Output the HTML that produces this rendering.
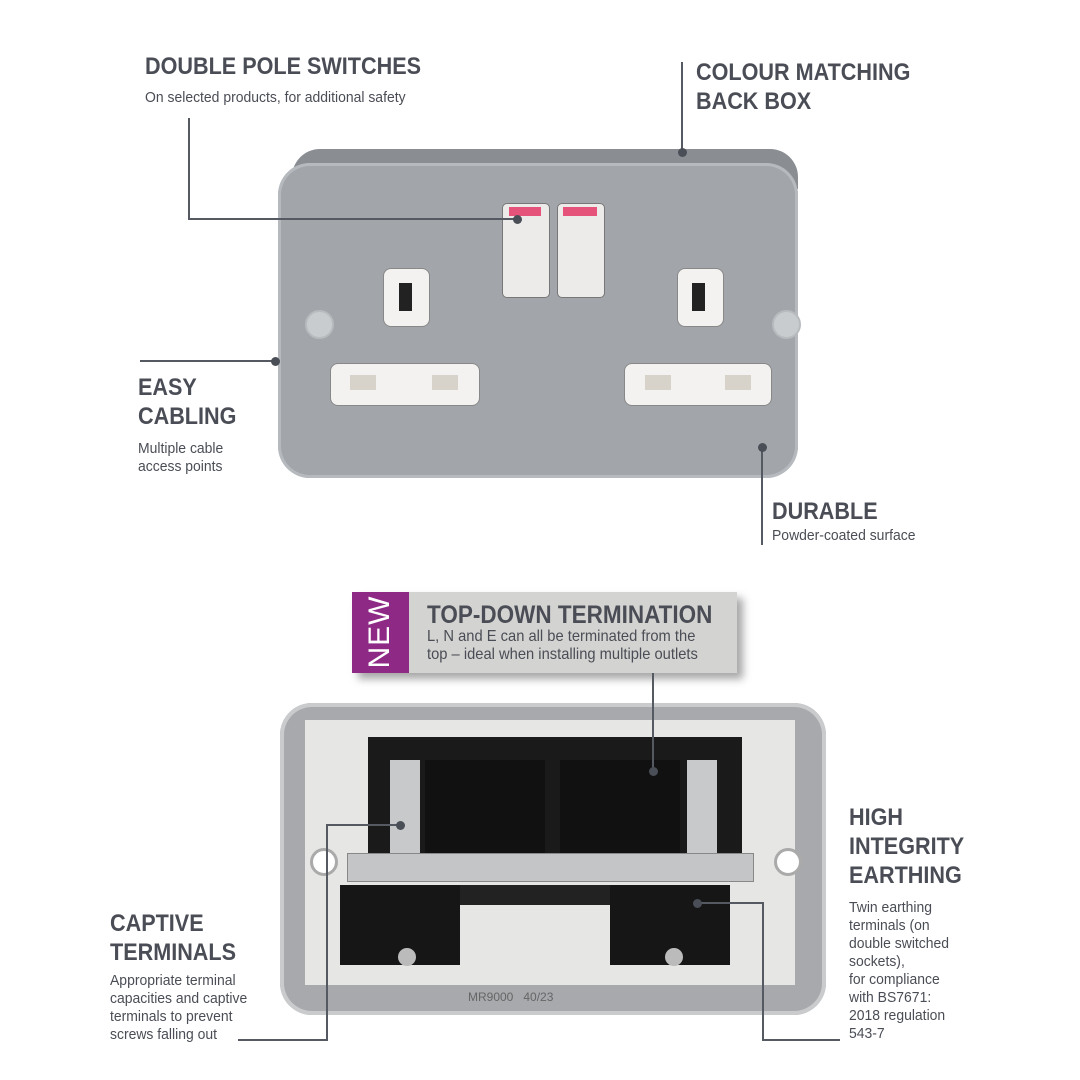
<!DOCTYPE html>
<html><head><meta charset="utf-8"><style>
body{margin:0;width:1080px;height:1080px;background:#fff;position:relative;overflow:hidden;font-family:"Liberation Sans",sans-serif;color:#4a4d55}
.a{position:absolute}
.h{position:absolute;font-weight:bold;font-size:24px;line-height:29px;transform:scaleX(0.9);transform-origin:0 0;white-space:nowrap;color:#4a4d55}
.s{position:absolute;font-size:15px;line-height:18px;transform:scaleX(0.93);transform-origin:0 0;white-space:nowrap;color:#4a4d55}
.l{position:absolute;background:#555a62}
.d{position:absolute;width:9px;height:9px;border-radius:50%;background:#4a4f57}
</style></head><body>

<!-- TOP SOCKET -->
<div class="a" style="left:292px;top:149px;width:506px;height:40px;background:#8a8e93;border-radius:28px 28px 0 0"></div>
<div class="a" style="left:278px;top:163px;width:520px;height:315px;background:#a2a6ab;border-radius:32px;box-shadow:inset 0 0 0 3px #b6babe"></div>
<!-- switches -->
<div class="a" style="left:502px;top:203px;width:46px;height:93px;background:#ecebea;border:1px solid #777;border-radius:5px"></div>
<div class="a" style="left:509px;top:207px;width:32px;height:9px;background:#e5537a"></div>
<div class="a" style="left:557px;top:203px;width:46px;height:93px;background:#ecebea;border:1px solid #777;border-radius:5px"></div>
<div class="a" style="left:563px;top:207px;width:34px;height:9px;background:#e5537a"></div>
<!-- earth pins -->
<div class="a" style="left:383px;top:268px;width:45px;height:57px;background:#f3f2f0;border-radius:8px;border:1px solid #888"></div>
<div class="a" style="left:399px;top:283px;width:13px;height:28px;background:#222"></div>
<div class="a" style="left:677px;top:268px;width:45px;height:57px;background:#f3f2f0;border-radius:8px;border:1px solid #888"></div>
<div class="a" style="left:692px;top:283px;width:13px;height:28px;background:#222"></div>
<!-- L/N pins -->
<div class="a" style="left:330px;top:363px;width:148px;height:41px;background:#f3f2f0;border-radius:8px;border:1px solid #888"></div>
<div class="a" style="left:350px;top:375px;width:26px;height:15px;background:#d8d3ca"></div>
<div class="a" style="left:432px;top:375px;width:26px;height:15px;background:#d8d3ca"></div>
<div class="a" style="left:624px;top:363px;width:146px;height:41px;background:#f3f2f0;border-radius:8px;border:1px solid #888"></div>
<div class="a" style="left:645px;top:375px;width:26px;height:15px;background:#d8d3ca"></div>
<div class="a" style="left:725px;top:375px;width:26px;height:15px;background:#d8d3ca"></div>
<!-- screws -->
<div class="a" style="left:305px;top:310px;width:25px;height:25px;border-radius:50%;background:#c9ccce;border:2px solid #b8bbbe"></div>
<div class="a" style="left:772px;top:310px;width:25px;height:25px;border-radius:50%;background:#c9ccce;border:2px solid #b8bbbe"></div>

<!-- BOTTOM SOCKET -->
<div class="a" style="left:280px;top:703px;width:546px;height:312px;background:#a7a9ac;border-radius:32px;box-shadow:inset 0 0 0 4px #c9cbcd"></div>
<div class="a" style="left:305px;top:720px;width:490px;height:265px;background:#e6e6e4"></div>
<div class="a" style="left:368px;top:737px;width:374px;height:125px;background:#1a1a1a"></div>
<div class="a" style="left:425px;top:760px;width:120px;height:100px;background:#111"></div>
<div class="a" style="left:560px;top:760px;width:120px;height:100px;background:#111"></div>
<div class="a" style="left:390px;top:760px;width:30px;height:100px;background:#c7c9cb"></div>
<div class="a" style="left:687px;top:760px;width:30px;height:100px;background:#c7c9cb"></div>
<div class="a" style="left:347px;top:853px;width:405px;height:27px;background:#c3c5c7;border:1px solid #888"></div>
<div class="a" style="left:340px;top:885px;width:120px;height:80px;background:#161616"></div>
<div class="a" style="left:610px;top:885px;width:120px;height:80px;background:#161616"></div>
<div class="a" style="left:460px;top:885px;width:150px;height:20px;background:#222"></div>
<div class="a" style="left:398px;top:948px;width:18px;height:18px;border-radius:50%;background:#bbb"></div>
<div class="a" style="left:665px;top:948px;width:18px;height:18px;border-radius:50%;background:#bbb"></div>
<div class="a" style="left:310px;top:848px;width:22px;height:22px;border-radius:50%;background:#fff;border:3px solid #aaa"></div>
<div class="a" style="left:774px;top:848px;width:22px;height:22px;border-radius:50%;background:#fff;border:3px solid #aaa"></div>
<div class="a" style="left:468px;top:990px;font-size:12px;color:#666">MR9000 &nbsp;&nbsp;40/23</div>

<!-- NEW box -->
<div class="a" style="left:352px;top:592px;width:385px;height:81px;background:#d3d3d1;box-shadow:6px 6px 8px rgba(0,0,0,0.35)"></div>
<div class="a" style="left:352px;top:592px;width:57px;height:81px;background:#8e2a86"></div>
<div class="a" style="left:380px;top:632px;transform:translate(-50%,-50%) rotate(-90deg);color:#fff;font-size:30px;letter-spacing:1px">NEW</div>
<div class="h" style="left:427px;top:601px;font-size:25px">TOP-DOWN TERMINATION</div>
<div class="s" style="left:427px;top:628px;font-size:16px;transform:scaleX(0.92)">L, N and E can all be terminated from the</div>
<div class="s" style="left:427px;top:646px;font-size:16px;transform:scaleX(0.92)">top – ideal when installing multiple outlets</div>

<!-- TEXT -->
<div class="h" style="left:145px;top:52px">DOUBLE POLE SWITCHES</div>
<div class="s" style="left:145px;top:89px">On selected products, for additional safety</div>
<div class="h" style="left:696px;top:58px">COLOUR MATCHING</div>
<div class="h" style="left:696px;top:87px">BACK BOX</div>
<div class="h" style="left:138px;top:373px">EASY</div>
<div class="h" style="left:138px;top:402px">CABLING</div>
<div class="s" style="left:138px;top:440px">Multiple cable</div>
<div class="s" style="left:138px;top:458px">access points</div>
<div class="h" style="left:772px;top:497px">DURABLE</div>
<div class="s" style="left:772px;top:527px">Powder-coated surface</div>
<div class="h" style="left:110px;top:909px">CAPTIVE</div>
<div class="h" style="left:110px;top:938px">TERMINALS</div>
<div class="s" style="left:110px;top:972px">Appropriate terminal</div>
<div class="s" style="left:110px;top:990px">capacities and captive</div>
<div class="s" style="left:110px;top:1008px">terminals to prevent</div>
<div class="s" style="left:110px;top:1026px">screws falling out</div>
<div class="h" style="left:849px;top:803px">HIGH</div>
<div class="h" style="left:849px;top:832px">INTEGRITY</div>
<div class="h" style="left:849px;top:861px">EARTHING</div>
<div class="s" style="left:849px;top:899px">Twin earthing</div>
<div class="s" style="left:849px;top:917px">terminals (on</div>
<div class="s" style="left:849px;top:935px">double switched</div>
<div class="s" style="left:849px;top:953px">sockets),</div>
<div class="s" style="left:849px;top:971px">for compliance</div>
<div class="s" style="left:849px;top:989px">with BS7671:</div>
<div class="s" style="left:849px;top:1007px">2018 regulation</div>
<div class="s" style="left:849px;top:1025px">543-7</div>

<!-- LINES -->
<div class="l" style="left:188px;top:118px;width:2px;height:102px"></div>
<div class="l" style="left:188px;top:218px;width:330px;height:2px"></div>
<div class="d" style="left:513px;top:215px"></div>
<div class="l" style="left:681px;top:62px;width:2px;height:90px"></div>
<div class="d" style="left:678px;top:148px"></div>
<div class="l" style="left:140px;top:360px;width:135px;height:2px"></div>
<div class="d" style="left:271px;top:357px"></div>
<div class="l" style="left:761px;top:447px;width:2px;height:98px"></div>
<div class="d" style="left:758px;top:443px"></div>
<div class="l" style="left:652px;top:673px;width:2px;height:98px"></div>
<div class="d" style="left:649px;top:767px"></div>
<div class="l" style="left:326px;top:824px;width:74px;height:2px"></div>
<div class="l" style="left:326px;top:824px;width:2px;height:217px"></div>
<div class="l" style="left:238px;top:1039px;width:90px;height:2px"></div>
<div class="d" style="left:396px;top:821px"></div>
<div class="l" style="left:697px;top:902px;width:67px;height:2px"></div>
<div class="l" style="left:762px;top:902px;width:2px;height:139px"></div>
<div class="l" style="left:762px;top:1039px;width:78px;height:2px"></div>
<div class="d" style="left:693px;top:899px"></div>
</body></html>
